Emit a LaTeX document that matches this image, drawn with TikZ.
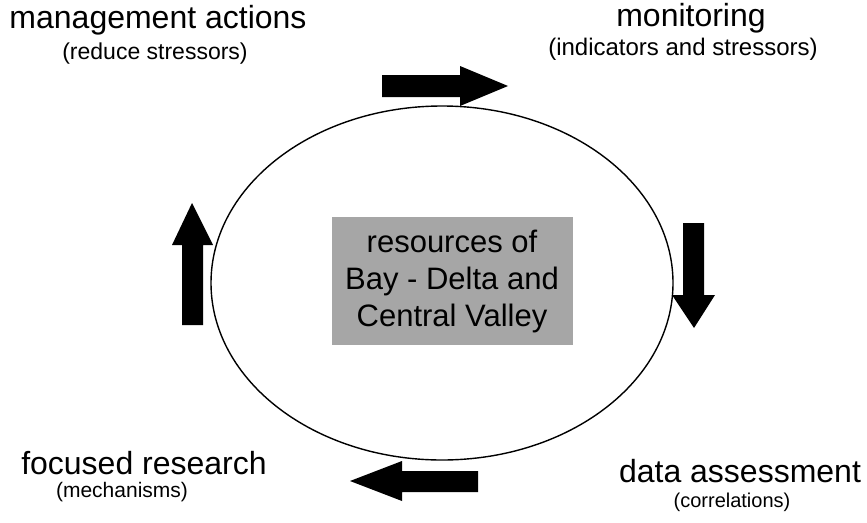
\documentclass[tikz,border=0pt]{standalone}
\usepackage{fontspec}
\setmainfont{Liberation Sans}
\tikzset{
  mainlabel/.style={anchor=base, inner sep=0pt, font=\fontsize{32}{35}\selectfont},
  sublabel/.style={anchor=base, inner sep=0pt, font=\fontsize{23}{26}\selectfont},
  blockarrow/.style={fill=black},
}
\begin{document}
\begin{tikzpicture}[x=1pt, y=-1pt]
    \useasboundingbox (0,0) rectangle (867,522);
    \draw [line width=1.4] (442,283) ellipse [x radius=231, y radius=177];
    \node [fill=black!35, minimum width=241, minimum height=128, inner sep=0pt, align=center, font=\fontsize{31}{37}\selectfont] (res) at (452,281) {resources of\\Bay - Delta and\\Central Valley};
    \node [mainlabel] (mgmt) at (158,28) {management actions};
    \node [sublabel] (mgmtsub) at (155,59) {(reduce stressors)};
    \node [mainlabel] (mon) at (691,27) {monitoring};
    \node [sublabel, font=\fontsize{24}{26}\selectfont] (monsub) at (683,55) {(indicators and stressors)};
    \node [mainlabel] (data) at (740,482) {data assessment};
    \node [sublabel, font=\fontsize{20}{24}\selectfont] (datasub) at (732,507) {(correlations)};
    \node [mainlabel] (study) at (144,474) {focused research};
    \node [sublabel, font=\fontsize{21}{24}\selectfont] (studysub) at (122,497) {(mechanisms)};
    \fill [blockarrow] (382,75) -- (460,75) -- (460,66) -- (508,86) -- (460,106) -- (460,97) -- (382,97) -- cycle;
    \fill [blockarrow] (683,223) -- (704,223) -- (704,295) -- (715,295) -- (694,328) -- (672,295) -- (683,295) -- cycle;
    \fill [blockarrow] (478,471) -- (402,471) -- (402,461) -- (350,481) -- (402,501) -- (402,492) -- (478,492) -- cycle;
    \fill [blockarrow] (182,325) -- (182,245) -- (172,245) -- (192,203) -- (213,245) -- (203,245) -- (203,325) -- cycle;
\end{tikzpicture}
\end{document}
